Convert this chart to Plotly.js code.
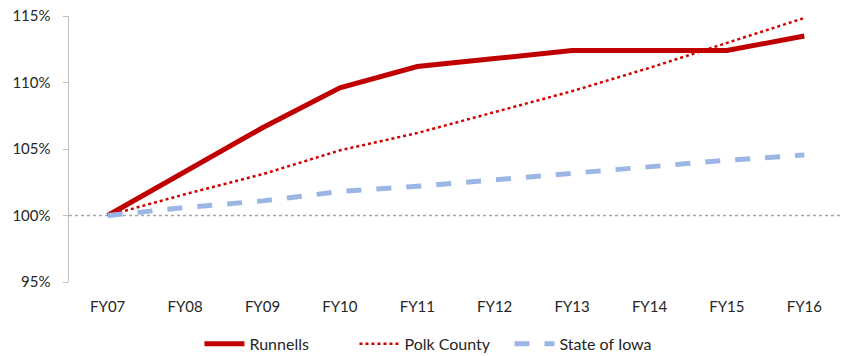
<!DOCTYPE html>
<html>
<head>
<meta charset="utf-8">
<script src="https://cdn.plot.ly/plotly-3.0.1.min.js"></script>
<style>html,body{margin:0;padding:0;background:#fff;}#chart{width:847px;height:356px;}</style>
</head>
<body>
<div id="chart"></div>
<script>
const categories = ["FY07","FY08","FY09","FY10","FY11","FY12","FY13","FY14","FY15","FY16"];
const runnells = [100, 103.3, 106.6, 109.6, 111.2, 111.8, 112.4, 112.4, 112.4, 113.5];
const polkCounty = [100, 101.6, 103.1, 104.9, 106.2, 107.8, 109.35, 111.1, 113.0, 114.85];
const stateOfIowa = [100, 100.6, 101.1, 101.8, 102.2, 102.7, 103.2, 103.7, 104.15, 104.55];
const yTicks = [95, 100, 105, 110, 115];
const yTickLabels = ["95%", "100%", "105%", "110%", "115%"];

const font = {family: "Lato, 'Liberation Sans', sans-serif", size: 15, color: "#262626"};
const legendFont = {family: "Lato, 'Liberation Sans', sans-serif", size: 16, color: "#262626"};

const traces = [
  {x: categories, y: runnells, name: "Runnells", type: "scatter", mode: "lines",
   line: {color: "#C00000", width: 5}},
  {x: categories, y: polkCounty, name: "Polk County", type: "scatter", mode: "lines",
   line: {color: "#D40000", width: 2.5, dash: "dot"}},
  {x: categories, y: stateOfIowa, name: "State of Iowa", type: "scatter", mode: "lines",
   line: {color: "#9BB6E5", width: 5, dash: "dash"}}
];

const layout = {
  width: 847, height: 356,
  margin: {l: 69, r: 4, t: 16, b: 74},
  paper_bgcolor: "#fff", plot_bgcolor: "#fff",
  font: font,
  showlegend: true,
  legend: {orientation: "h", xref: "container", x: 0.51, xanchor: "center",
           yref: "container", y: 0.034, yanchor: "middle",
           font: legendFont, itemwidth: 40, entrywidth: 100, traceorder: "normal"},
  xaxis: {type: "category", range: [-0.5, 9.5], showgrid: false, zeroline: false,
          showline: false, ticks: "", ticklabelstandoff: 14, tickfont: font, fixedrange: true},
  yaxis: {range: [95, 115], tickvals: yTicks, ticktext: yTickLabels, showgrid: false,
          zeroline: false, showline: true, linecolor: "#BFBFBF", linewidth: 1.5,
          ticks: "outside", ticklen: 5, tickcolor: "#BFBFBF", ticklabelstandoff: 9,
          tickfont: font, fixedrange: true},
  shapes: [{type: "line", xref: "paper", x0: 0, x1: 1, yref: "y", y0: 100, y1: 100,
            line: {color: "#A6A6A6", width: 1.5, dash: "dot"}, layer: "below"}]
};

Plotly.newPlot("chart", traces, layout, {displayModeBar: false, staticPlot: true});
</script>
</body>
</html>
